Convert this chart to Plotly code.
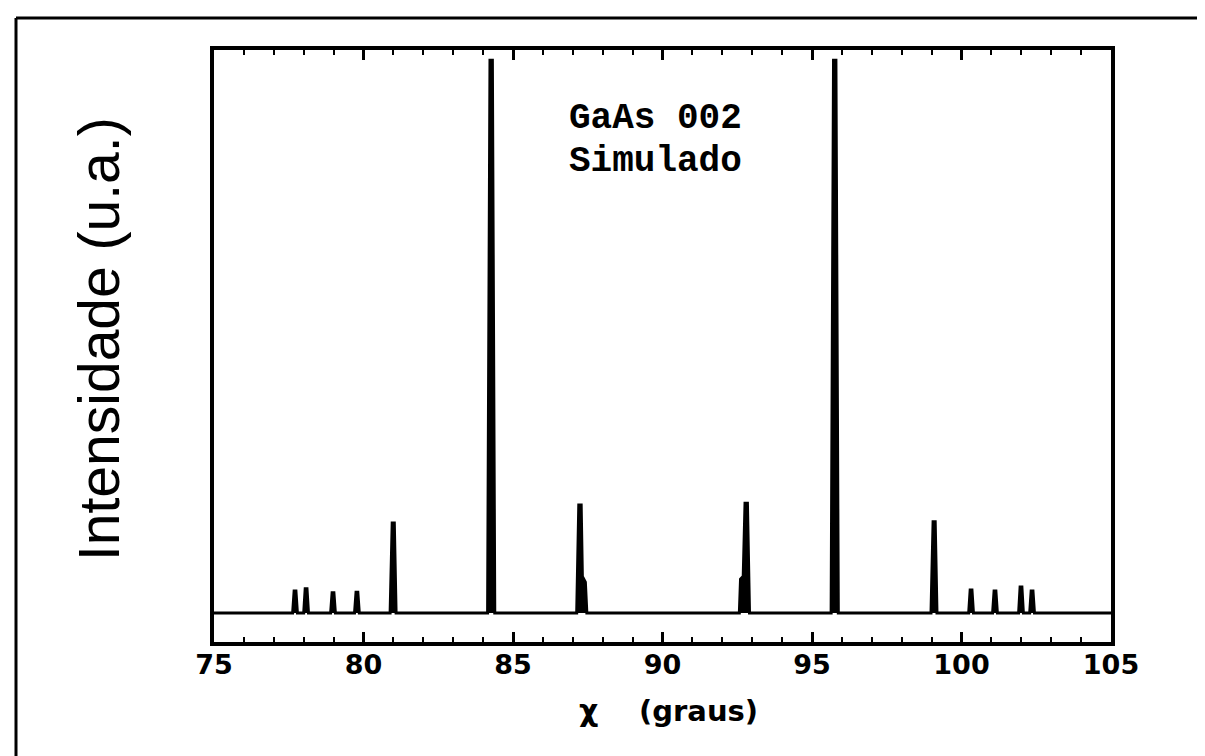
import plotly.graph_objects as go

# Simulated GaAs 002 spectrum: x = chi (degrees), y = intensity (a.u.)
spectrum_x = [75.0,
              77.63, 77.68, 77.74, 77.79,
              78.00, 78.05, 78.11, 78.16,
              78.90, 78.95, 79.01, 79.06,
              79.70, 79.75, 79.81, 79.86,
              80.89, 80.96, 81.03, 81.09,
              84.15, 84.23, 84.31, 84.39,
              87.13, 87.20, 87.28, 87.32, 87.42, 87.47,
              92.57, 92.61, 92.70, 92.76, 92.84, 92.91,
              95.64, 95.72, 95.80, 95.88,
              98.98, 99.05, 99.12, 99.18,
              100.24, 100.29, 100.35, 100.40,
              101.04, 101.09, 101.15, 101.20,
              101.91, 101.96, 102.02, 102.07,
              102.28, 102.33, 102.39, 102.44,
              105.0]
spectrum_y = [0.0,
              0.0, 0.039, 0.039, 0.0,
              0.0, 0.043, 0.043, 0.0,
              0.0, 0.036, 0.036, 0.0,
              0.0, 0.037, 0.037, 0.0,
              0.0, 0.160, 0.160, 0.0,
              0.0, 0.982, 0.982, 0.0,
              0.0, 0.192, 0.192, 0.065, 0.055, 0.0,
              0.0, 0.060, 0.065, 0.195, 0.195, 0.0,
              0.0, 0.982, 0.982, 0.0,
              0.0, 0.162, 0.162, 0.0,
              0.0, 0.041, 0.041, 0.0,
              0.0, 0.039, 0.039, 0.0,
              0.0, 0.046, 0.046, 0.0,
              0.0, 0.039, 0.039, 0.0,
              0.0]

x_ticks = [75, 80, 85, 90, 95, 100, 105]
x_range = [75, 105]
y_range = [-0.0515, 1.0]

label_line1 = "GaAs 002"
label_line2 = "Simulado"
x_title_symbol = "χ"
x_title_unit = "(graus)"
y_title = "Intensidade (u.a.)"

W, H = 1205, 756
L, R, T, B = 206, 102, 42, 122
PW, PH = W - L - R, H - T - B


def px(xp):
    return (xp - L) / PW


def py(yp):
    return (H - B - yp) / PH


fig = go.Figure()
fig.add_trace(go.Scatter(
    x=spectrum_x, y=spectrum_y, mode="lines",
    line=dict(color="black", width=3),
    fill="tozeroy", fillcolor="black",
    hoverinfo="skip", showlegend=False,
))

fig.update_layout(
    width=W, height=H,
    margin=dict(l=L, r=R, t=T, b=B),
    paper_bgcolor="white", plot_bgcolor="white",
    showlegend=False,
    xaxis=dict(
        range=x_range, tickvals=x_ticks, ticktext=[str(v) for v in x_ticks],
        ticks="inside", ticklen=10, tickwidth=2.5, tickcolor="black",
        minor=dict(dtick=1, ticks="inside", ticklen=5, tickwidth=2, tickcolor="black"),
        showline=True, linecolor="black", linewidth=3.5, mirror="allticks",
        showgrid=False, zeroline=False,
        tickfont=dict(family="DejaVu Sans", size=27, color="black", weight="bold"),
        ticklabelstandoff=-4,
    ),
    yaxis=dict(
        range=y_range, showticklabels=False, ticks="",
        showline=True, linecolor="black", linewidth=3.5, mirror=True,
        showgrid=False, zeroline=False,
    ),
    font=dict(color="black"),
)

# Text inside plot
fig.add_annotation(x=px(647), y=py(110), xref="paper", yref="paper",
                   xanchor="center", yanchor="middle",
                   text=label_line1, showarrow=False,
                   font=dict(family="Liberation Mono", size=36, color="black", weight="bold"))
fig.add_annotation(x=px(647), y=py(154), xref="paper", yref="paper",
                   xanchor="center", yanchor="middle",
                   text=label_line2, showarrow=False,
                   font=dict(family="Liberation Mono", size=36, color="black", weight="bold"))

# X axis title (symbol and unit)
fig.add_annotation(x=px(580), y=py(703), xref="paper", yref="paper",
                   xanchor="center", yanchor="middle",
                   text=x_title_symbol, showarrow=False,
                   font=dict(family="DejaVu Sans", size=30, color="black", weight="bold"))
fig.add_annotation(x=px(690), y=py(703), xref="paper", yref="paper",
                   xanchor="center", yanchor="middle",
                   text=x_title_unit, showarrow=False,
                   font=dict(family="DejaVu Sans", size=29, color="black", weight="bold"))

# Y axis title
fig.add_annotation(x=px(57), y=py(331), xref="paper", yref="paper",
                   xanchor="left", yanchor="middle",
                   text=y_title, showarrow=False, textangle=-90,
                   font=dict(family="Liberation Sans Narrow, Liberation Sans", size=57, color="black"))

# Outer scan border
fig.add_shape(type="line", xref="paper", yref="paper",
              x0=px(8), x1=px(8), y0=py(756), y1=py(10),
              line=dict(color="black", width=3))
fig.add_shape(type="line", xref="paper", yref="paper",
              x0=px(8), x1=px(1205), y0=py(10), y1=py(10),
              line=dict(color="black", width=3))
fig.add_shape(type="line", xref="paper", yref="paper",
              x0=px(1201), x1=px(1201), y0=py(660), y1=py(10),
              line=dict(color="#bbbbbb", width=1, dash="dot"))

fig.write_html("out.html")
